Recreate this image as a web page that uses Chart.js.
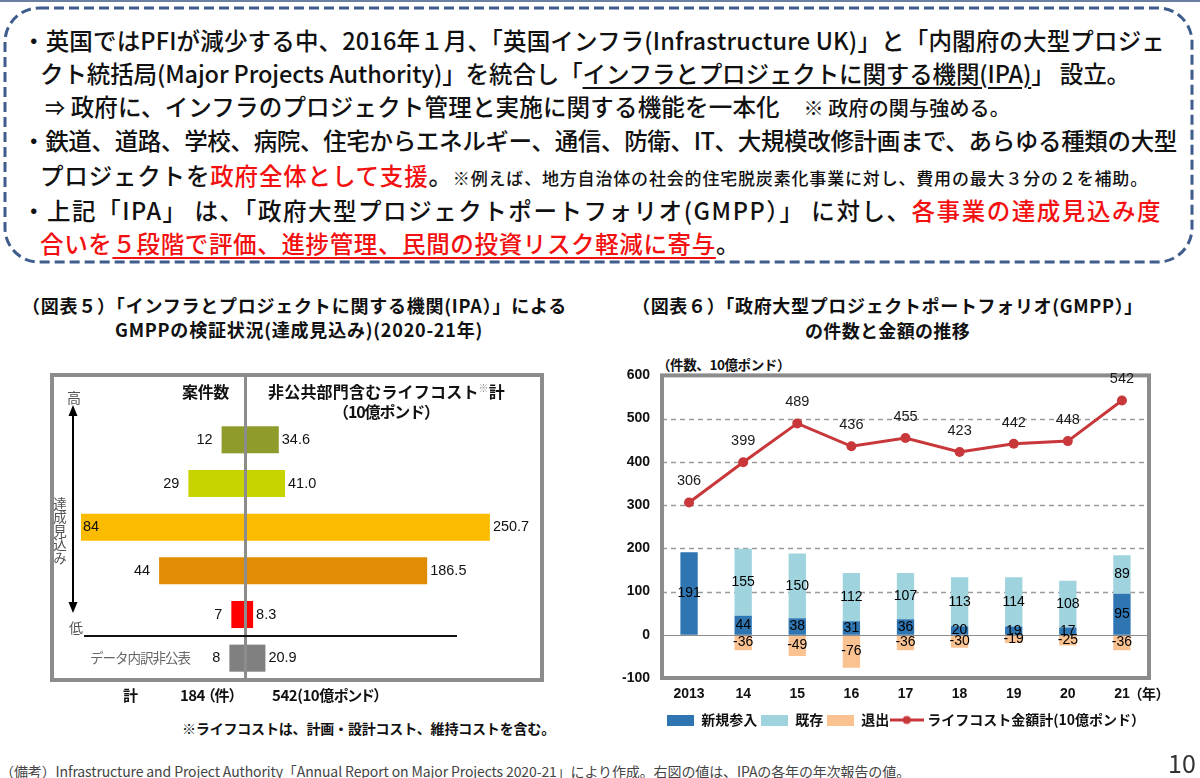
<!DOCTYPE html>
<html><head><meta charset="utf-8">
<script src="https://cdn.jsdelivr.net/npm/chart.js@4.4.0/dist/chart.umd.min.js"></script>
<style>
html,body{margin:0;padding:0;background:#fff;width:1200px;height:778px;overflow:hidden;}
body{position:relative;font-family:"Noto Sans CJK JP","Noto Sans",sans-serif;color:#111;}
.abs{position:absolute;white-space:nowrap;}
.ln{position:absolute;white-space:nowrap;font-size:23.5px;font-weight:500;line-height:1.3;color:#111;}
.red{color:#f21010;}
.u{text-decoration:underline;text-underline-offset:4px;text-decoration-thickness:1.5px;}
.sm{font-size:20px;}
.xs{font-size:17px;}
.ttl{font-size:18px;font-weight:bold;line-height:1.3;color:#111;}
.hd{font-size:16px;font-weight:bold;line-height:1.3;color:#111;}
.palt{font-feature-settings:'palt';}
canvas{position:absolute;}
</style></head>
<body>
<div class="abs" style="left:0;top:0;width:1200px;height:2px;background:#6a7fa0"></div>
<svg class="abs" style="left:0;top:0" width="1200" height="270"><rect x="5" y="8" width="1187" height="254" rx="34" ry="34" fill="none" stroke="#3f5d8c" stroke-width="3" stroke-dasharray="10 5"/></svg>

<div class="ln" data-x="22" data-w="1143" data-cy="40">・英国ではPFIが減少する中、2016年１月、「英国インフラ(Infrastructure UK)」と「内閣府の大型プロジェ</div>
<div class="ln" data-x="40" data-w="1090" data-cy="73">クト統括局(Major Projects Authority)」を統合し「<span class="u">インフラとプロジェクトに関する機関(IPA)</span>」 設立。</div>
<div class="ln" data-x="45" data-w="965" data-cy="106"><span class="sm">⇒</span> 政府に、インフラのプロジェクト管理と実施に関する機能を一本化　<span class="sm">※ 政府の関与強める。</span></div>
<div class="ln" data-x="22" data-w="1155" data-cy="140">・鉄道、道路、学校、病院、住宅からエネルギー、通信、防衛、IT、大規模改修計画まで、あらゆる種類の大型</div>
<div class="ln" data-x="40" data-w="1108" data-cy="175">プロジェクトを<span class="red">政府全体として支援</span>。<span class="xs">※例えば、地方自治体の社会的住宅脱炭素化事業に対し、費用の最大３分の２を補助。</span></div>
<div class="ln" data-x="22" data-w="1140" data-cy="210">・上記「IPA」 は、「政府大型プロジェクトポートフォリオ(GMPP）」 に対し、<span class="red">各事業の達成見込み度</span></div>
<div class="ln" data-x="40" data-w="700" data-cy="243"><span class="red">合いを<span class="u">５段階で評価、進捗管理、民間の投資リスク軽減に寄与</span></span>。</div>

<!-- Figure 5 -->
<div class="abs ttl" data-x="22" data-w="545" data-cy="305">（図表５）「インフラとプロジェクトに関する機関(IPA）」による</div>
<div class="abs ttl" data-x="115" data-w="368" data-cy="329">GMPPの検証状況(達成見込み)(2020-21年)</div>

<canvas id="c5l" width="190" height="262" style="left:55px;top:418px;width:190px;height:262px"></canvas>
<canvas id="c5r" width="295" height="262" style="left:245px;top:418px;width:295px;height:262px"></canvas>

<div class="abs" style="left:50px;top:373px;width:494px;height:309px;box-sizing:border-box;border:4px solid #8c8c8c"></div>
<div class="abs" style="left:244px;top:375px;width:3px;height:306px;background:#8c8c8c"></div>
<div class="abs hd" data-x="182" data-w="47" data-cy="391">案件数</div>
<div class="abs hd" data-x="268" data-w="237" data-cy="391">非公共部門含むライフコスト<span style="font-size:10px;vertical-align:6px;color:#888;font-weight:normal">※</span>計</div>
<div class="abs hd" data-x="333" data-w="106" data-cy="411">（10億ポンド）</div>
<div class="abs" style="left:67px;top:387px;font-size:14px;line-height:20px;color:#555">高</div>
<div class="abs" style="left:69px;top:617px;font-size:14px;line-height:20px;color:#555">低</div>
<div class="abs" style="left:51px;top:497px;font-size:13.5px;line-height:17px;color:#555;writing-mode:vertical-rl;">達成見込み</div>
<svg class="abs" style="left:60px;top:398px" width="30" height="225">
 <line x1="13" y1="14" x2="13" y2="204" stroke="#000" stroke-width="2"/>
 <polygon points="13,7 8.5,18 17.5,18" fill="#000"/>
 <polygon points="13,215 8.5,204 17.5,204" fill="#000"/>
</svg>
<div class="abs" style="left:84px;top:635px;width:373px;height:1.5px;background:#111"></div>
<div class="abs" data-x="90" data-w="100" data-cy="658" style="font-size:13.5px;line-height:1.3;color:#666">データ内訳非公表</div>

<div class="abs hd" data-x="123" data-cy="695" style="font-size:15px">計</div>
<div class="abs hd palt" data-x="180" data-w="56" data-cy="695" style="font-size:15px">184 （件）</div>
<div class="abs hd palt" data-x="272" data-w="109" data-cy="695" style="font-size:15px">542(10億ポンド）</div>
<div class="abs hd" data-x="182" data-w="373" data-cy="728" style="font-size:14px">※ライフコストは、計画・設計コスト、維持コストを含む。</div>

<!-- Figure 6 -->
<div class="abs ttl" data-x="632" data-w="511" data-cy="305">（図表６）「政府大型プロジェクトポートフォリオ(GMPP）」</div>
<div class="abs ttl" data-x="805" data-w="165" data-cy="330">の件数と金額の推移</div>
<div class="abs hd" data-x="657" data-w="133" data-cy="365" style="font-size:13.5px">（件数、10億ポンド）</div>
<canvas id="c6" width="620" height="390" style="left:600px;top:355px;width:620px;height:390px"></canvas>
<div class="abs hd palt" data-x="1135" data-w="28" data-cy="693" style="font-size:14px">（年）</div>

<div class="abs" data-x="0" data-w="910" data-cy="771" style="font-size:14px;line-height:1.3;color:#444">（備考）Infrastructure and Project Authority「Annual Report on Major Projects 2020-21」により作成。右図の値は、IPAの各年の年次報告の値。</div>
<div class="abs" style="left:1168px;top:746px;font-size:25px;line-height:32px;color:#333">10</div>

<script>
// ---------- Data: Figure 5 ----------
const rows5 = ['Green', 'Amber/Green', 'Amber', 'Amber/Red', 'Red', 'データ内訳非公表'];
const counts5 = [12, 29, 84, 44, 7, 8];
const costs5 = [34.6, 41.0, 250.7, 186.5, 8.3, 20.9];
// ---------- Data: Figure 6 ----------
const years6 = ['2013', '14', '15', '16', '17', '18', '19', '20', '21'];
const newEntry6 = [191, 44, 38, 31, 36, 20, 19, 17, 95];
const existing6 = [null, 155, 150, 112, 107, 113, 114, 108, 89];
const exits6 = [null, -36, -49, -76, -36, -30, -19, -25, -36];
const lifeCost6 = [306, 399, 489, 436, 455, 423, 442, 448, 542];
const yRange6 = [-100, 600];
const yStep6 = 100;

// styles
const rowColors5 = ['#8f9b2b', '#c8d400', '#fbbc00', '#e08d05', '#ff0000', '#808080'];
const NUM = '"Liberation Sans", Arial, sans-serif';
const CJK = '"Noto Sans CJK JP", sans-serif';

// text layout helpers
function layoutText() {
  document.querySelectorAll('[data-x]').forEach(el => { el.style.left = el.dataset.x + 'px'; });
  document.querySelectorAll('[data-w]').forEach(el => {
    el.style.letterSpacing = '0px';
    const w = el.getBoundingClientRect().width;
    const n = el.textContent.length;
    el.style.letterSpacing = ((+el.dataset.w - w) / n).toFixed(3) + 'px';
  });
  document.querySelectorAll('[data-cy]').forEach(el => {
    el.style.top = (+el.dataset.cy - el.offsetHeight / 2) + 'px';
  });
}
layoutText();

// ---------- Figure 5 ----------
const label5 = {
  id: 'label5',
  afterDatasetsDraw(chart) {
    const ctx = chart.ctx, ds = chart.data.datasets[0], meta = chart.getDatasetMeta(0);
    ctx.save();
    ctx.font = '14.5px ' + NUM;
    ctx.fillStyle = '#111';
    ctx.textBaseline = 'middle';
    meta.data.forEach((el, i) => {
      const v = ds.data[i];
      const txt = ds.side === 'right' ? v.toFixed(1) : String(v);
      const w = ctx.measureText(txt).width;
      if (ds.side === 'left') {
        const x = el.x - 9;
        if (x - w < chart.chartArea.left + 30) { ctx.textAlign = 'left'; ctx.fillText(txt, el.x + 2, el.y); }
        else { ctx.textAlign = 'right'; ctx.fillText(txt, x, el.y); }
      } else {
        ctx.textAlign = 'left';
        ctx.fillText(txt, el.x + 3, el.y);
      }
    });
    ctx.restore();
  }
};
function side5(id, values, max, reverse, side) {
  return new Chart(document.getElementById(id), {
    type: 'bar',
    data: { labels: rows5, datasets: [{ data: values, backgroundColor: rowColors5, borderWidth: 0, barPercentage: 0.62, categoryPercentage: 1, side }] },
    options: {
      indexAxis: 'y', responsive: false, animation: false, layout: { padding: 0 },
      plugins: { legend: { display: false }, tooltip: { enabled: false } },
      scales: { x: { type: 'linear', min: 0, max, reverse, display: false }, y: { display: false } }
    },
    plugins: [label5]
  });
}
side5('c5l', counts5, 97.3, true, 'left');
side5('c5r', costs5, 302, false, 'right');

// ---------- Figure 6 ----------
const grid6 = {
  id: 'grid6',
  beforeDatasetsDraw(chart) {
    const { ctx, chartArea: a, scales: { y } } = chart;
    ctx.save();
    ctx.strokeStyle = '#9a9a9a'; ctx.lineWidth = 1.3; ctx.setLineDash([5, 4]);
    y.ticks.forEach(t => {
      if (t.value > y.min && t.value < y.max && t.value !== 0) {
        const py = Math.round(y.getPixelForValue(t.value)) + 0.5;
        ctx.beginPath(); ctx.moveTo(a.left, py); ctx.lineTo(a.right, py); ctx.stroke();
      }
    });
    ctx.restore();
  },
  afterDatasetsDraw(chart) {
    const { ctx, chartArea: a, scales: { y } } = chart;
    ctx.save();
    ctx.strokeStyle = '#8c8c8c'; ctx.lineWidth = 1.2;
    const p0 = Math.round(y.getPixelForValue(0)) + 0.5;
    ctx.beginPath(); ctx.moveTo(a.left, p0); ctx.lineTo(a.right, p0); ctx.stroke();
    ctx.lineWidth = 4;
    ctx.strokeRect(a.left, a.top, a.right - a.left, a.bottom - a.top);
    ctx.restore();
  }
};
const label6 = {
  id: 'label6',
  afterDatasetsDraw(chart) {
    const ctx = chart.ctx;
    ctx.save();
    ctx.textAlign = 'center'; ctx.textBaseline = 'middle';
    chart.data.datasets.forEach((ds, di) => {
      const meta = chart.getDatasetMeta(di);
      meta.data.forEach((el, i) => {
        const v = ds.data[i];
        if (v == null) return;
        if (ds.type === 'bar') {
          ctx.font = '14px ' + NUM; ctx.fillStyle = '#000';
          ctx.fillText(String(v), el.x, (el.y + el.base) / 2);
        } else {
          ctx.font = '14.5px ' + NUM; ctx.fillStyle = '#1a1a1a';
          ctx.fillText(String(v), el.x, el.y - 21);
        }
      });
    });
    ctx.restore();
  }
};
function boxImg(color) {
  const c = document.createElement('canvas'); c.width = 27; c.height = 11;
  const g = c.getContext('2d'); g.fillStyle = color; g.fillRect(0, 0, 27, 11); return c;
}
function lineImg(color) {
  const c = document.createElement('canvas'); c.width = 34; c.height = 11;
  const g = c.getContext('2d'); g.strokeStyle = color; g.lineWidth = 3;
  g.beginPath(); g.moveTo(0, 5.5); g.lineTo(34, 5.5); g.stroke();
  g.fillStyle = color; g.beginPath(); g.arc(17, 5.5, 4, 0, Math.PI * 2); g.fill(); return c;
}
const c6colors = ['#2e75b2', '#9fd3de', '#fac191', '#c8373a'];
const legendImgs = [boxImg(c6colors[0]), boxImg(c6colors[1]), boxImg(c6colors[2]), lineImg(c6colors[3])];

new Chart(document.getElementById('c6'), {
  data: {
    labels: years6,
    datasets: [
      { type: 'bar', label: '新規参入', data: newEntry6, backgroundColor: c6colors[0], stack: 's', order: 2 },
      { type: 'bar', label: '既存', data: existing6, backgroundColor: c6colors[1], stack: 's', order: 2 },
      { type: 'bar', label: '退出', data: exits6, backgroundColor: c6colors[2], stack: 's', order: 2 },
      { type: 'line', label: 'ライフコスト金額計(10億ポンド）', data: lifeCost6, borderColor: c6colors[3], backgroundColor: c6colors[3],
        borderWidth: 3, pointRadius: 5, pointBackgroundColor: c6colors[3], pointBorderWidth: 0, order: 1, tension: 0 }
    ]
  },
  options: {
    responsive: false, animation: false,
    layout: { padding: { left: 0, right: 71, top: 20, bottom: 8 } },
    datasets: { bar: { barPercentage: 0.32, categoryPercentage: 1 } },
    scales: {
      x: { stacked: true, grid: { display: false, drawTicks: false }, border: { display: false },
        ticks: { padding: 8, color: '#111', font: { size: 14, weight: 'bold', family: NUM } },
        afterFit(s) { s.height = 31; } },
      y: { stacked: true, min: yRange6[0], max: yRange6[1], grid: { display: false, drawTicks: false }, border: { display: false },
        ticks: { stepSize: yStep6, padding: 12, color: '#111', font: { size: 14, weight: 'bold', family: NUM } },
        afterFit(s) { s.width = 62; } }
    },
    plugins: {
      tooltip: { enabled: false },
      legend: {
        position: 'bottom', align: 'end',
        labels: {
          usePointStyle: true, pointStyleWidth: 27, boxHeight: 11, padding: 4, color: '#111',
          font: { size: 14, weight: 'bold', family: CJK },
          generateLabels: (chart) => chart.data.datasets.map((ds, i) => ({
            text: ds.label, pointStyle: legendImgs[i], fillStyle: c6colors[i], strokeStyle: c6colors[i],
            lineWidth: 0, hidden: false, datasetIndex: i, fontColor: '#111'
          }))
        }
      }
    }
  },
  plugins: [grid6, label6]
});
</script>
</body></html>
